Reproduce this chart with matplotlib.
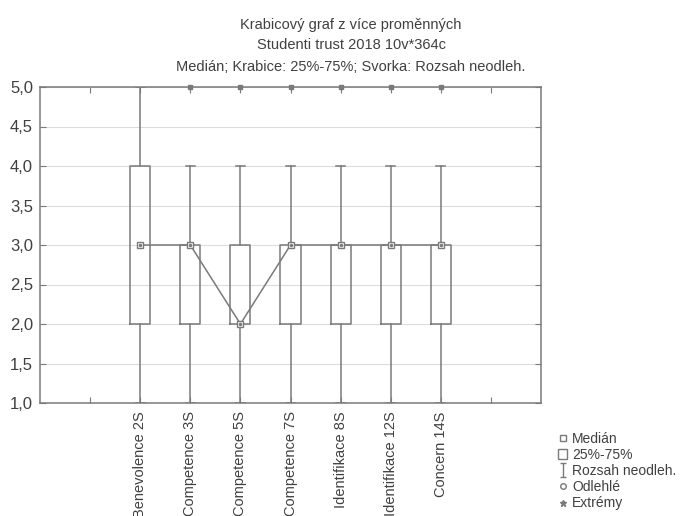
import matplotlib
matplotlib.use("Agg")
import matplotlib.pyplot as plt
from matplotlib.lines import Line2D
from matplotlib.patches import Rectangle
from matplotlib.path import Path
from matplotlib.ticker import FuncFormatter, MultipleLocator

plt.rcParams['font.family'] = ['Liberation Sans', 'DejaVu Sans']

labels = ["Benevolence 2S", "Competence 3S", "Competence 5S", "Competence 7S",
          "Identifikace 8S", "Identifikace 12S", "Concern 14S"]
mins = [1, 1, 1, 1, 1, 1, 1]
q1 = [2, 2, 2, 2, 2, 2, 2]
medians = [3, 3, 2, 3, 3, 3, 3]
q3 = [4, 3, 3, 3, 3, 3, 3]
maxs = [5, 4, 4, 4, 4, 4, 4]
extremes = [[], [5], [5], [5], [5], [5], [5]]

positions = list(range(2, 2 + len(labels)))
line_c = "#7a7a7a"
text_c = "#404040"

fig = plt.figure(figsize=(6.83, 5.16), dpi=100)
ax = fig.add_axes([40 / 683, 1 - 403 / 516, 501 / 683, 316 / 516])

stats = []
for lab, lo, a, m, b, hi, ex in zip(labels, mins, q1, medians, q3, maxs, extremes):
    stats.append(dict(label=lab, whislo=lo, q1=a, med=m, q3=b, whishi=hi, fliers=ex))

ax.bxp(stats, positions=positions, widths=0.4, showfliers=True,
       boxprops=dict(color=line_c, linewidth=1.1),
       whiskerprops=dict(color=line_c, linewidth=1.1),
       capprops=dict(color=line_c, linewidth=1.1),
       medianprops=dict(linewidth=0),
       capwidths=0.18,
       flierprops=dict(marker='s', markersize=3, markerfacecolor=line_c,
                       markeredgecolor=line_c, clip_on=False))

# line through the medians, with the median markers on top
ax.plot(positions, medians, color=line_c, linewidth=1.1, zorder=3)
ax.plot(positions, medians, linestyle='none', marker='s', markersize=5,
        markerfacecolor='white', markeredgecolor=line_c, zorder=4)
ax.plot(positions, medians, linestyle='none', marker='.', markersize=3,
        color=line_c, zorder=5)

ax.set_xlim(0, 10)
ax.set_ylim(1, 5)
ax.yaxis.set_major_locator(MultipleLocator(0.5))
ax.yaxis.set_major_formatter(FuncFormatter(lambda v, p: f"{v:.1f}".replace(".", ",")))
ax.set_xticks([1] + positions + [9])
ax.set_xticklabels([""] + labels + [""], rotation=90, va='top', ha='center')
ax.tick_params(axis='both', colors=line_c, labelcolor=text_c, labelsize=12,
               direction='in', length=4, top=True, right=True)
ax.tick_params(axis='x', labelsize=10.5, pad=6)
ax.tick_params(axis='y', pad=5)
ax.grid(axis='y', color="#dcdcdc", linewidth=0.8)
ax.set_axisbelow(True)
for s in ax.spines.values():
    s.set_color(line_c)
    s.set_linewidth(1.1)

fig.text(0.514, 0.952, "Krabicový graf z více proměnných", ha='center', va='center',
         fontsize=10.5, color=text_c)
fig.text(0.514, 0.913, "Studenti trust 2018 10v*364c", ha='center', va='center',
         fontsize=10.5, color=text_c)
fig.text(0.514, 0.870, "Medián; Krabice: 25%-75%; Svorka: Rozsah neodleh.", ha='center',
         va='center', fontsize=10.5, color=text_c)

# whisker symbol for the legend: vertical stroke with two caps
ibeam = Path([(-0.5, 1), (0.5, 1), (0, 1), (0, -1), (-0.5, -1), (0.5, -1)],
             [Path.MOVETO, Path.LINETO, Path.MOVETO, Path.LINETO, Path.MOVETO, Path.LINETO])

handles = [
    Line2D([], [], linestyle='none', marker='s', markersize=5, markerfacecolor='white',
           markeredgecolor=line_c),
    Rectangle((0, 0), 1, 1, facecolor='white', edgecolor=line_c),
    Line2D([], [], linestyle='none', marker=ibeam, markersize=10, color=line_c,
           markeredgewidth=1),
    Line2D([], [], linestyle='none', marker='o', markersize=4, markerfacecolor='white',
           markeredgecolor=line_c),
    Line2D([], [], linestyle='none', marker='*', markersize=5, color=line_c),
]
names = ["Medián", "25%-75%", "Rozsah neodleh.", "Odlehlé", "Extrémy"]
fig.legend(handles, names, loc='lower left', bbox_to_anchor=(548 / 683, -0.008),
           frameon=False, fontsize=10, handlelength=0.7, handletextpad=0.35,
           labelspacing=0.15, labelcolor=text_c, borderpad=0.2)

fig.savefig("out.png", dpi=100)
